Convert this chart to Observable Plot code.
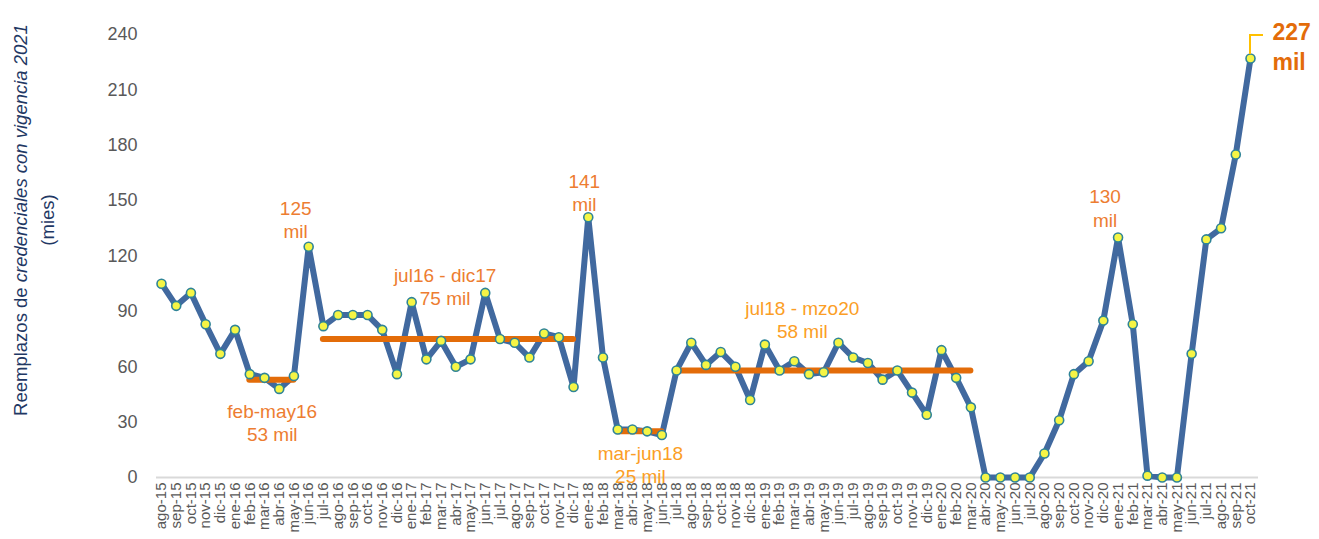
<!DOCTYPE html>
<html>
<head>
<meta charset="utf-8">
<script src="https://cdn.jsdelivr.net/npm/d3@7"></script>
<script src="https://cdn.jsdelivr.net/npm/@observablehq/plot@0.6"></script>
<style>
  html, body { margin: 0; padding: 0; background: #ffffff; }
  #chart svg { display: block; }
</style>
</head>
<body>
<div id="chart"></div>
<script>
// ---- Data ----
const months = [
  "ago-15","sep-15","oct-15","nov-15","dic-15",
  "ene-16","feb-16","mar-16","abr-16","may-16","jun-16","jul-16","ago-16","sep-16","oct-16","nov-16","dic-16",
  "ene-17","feb-17","mar-17","abr-17","may-17","jun-17","jul-17","ago-17","sep-17","oct-17","nov-17","dic-17",
  "ene-18","feb-18","mar-18","abr-18","may-18","jun-18","jul-18","ago-18","sep-18","oct-18","nov-18","dic-18",
  "ene-19","feb-19","mar-19","abr-19","may-19","jun-19","jul-19","ago-19","sep-19","oct-19","nov-19","dic-19",
  "ene-20","feb-20","mar-20","abr-20","may-20","jun-20","jul-20","ago-20","sep-20","oct-20","nov-20","dic-20",
  "ene-21","feb-21","mar-21","abr-21","may-21","jun-21","jul-21","ago-21","sep-21","oct-21"
];
const values = [
  105, 93, 100, 83, 67,
  80, 56, 54, 48, 55, 125, 82, 88, 88, 88, 80, 56,
  95, 64, 74, 60, 64, 100, 75, 73, 65, 78, 76, 49,
  141, 65, 26, 26, 25, 23, 58, 73, 61, 68, 60, 42,
  72, 58, 63, 56, 57, 73, 65, 62, 53, 58, 46, 34,
  69, 54, 38, 0, 0, 0, 0, 13, 31, 56, 63, 85,
  130, 83, 1, 0, 0, 67, 129, 135, 175, 227
];
const yTicks = [0, 30, 60, 90, 120, 150, 180, 210, 240];

// period averages
const avgLabels = ["feb-may16\n53 mil", "jul16 - dic17\n75 mil", "mar-jun18\n25 mil", "jul18 - mzo20\n58 mil"];
const avgStart  = ["feb-16", "jul-16", "mar-18", "jul-18"];
const avgEnd    = ["may-16", "dic-17", "jun-18", "mar-20"];
const avgValues = [53, 75, 25, 58];

// peak callouts
const peakLabels = ["125\nmil", "141\nmil", "130\nmil", "227\nmil"];
const peakMonths = ["jun-16", "ene-18", "ene-21", "oct-21"];
const peakValues = [125, 141, 130, 227];

const yTitleA = "Reemplazos de ";
const yTitleB = "credenciales con vigencia 2021";
const yTitleC = "(mies)";

// ---- Build tables ----
const series = months.map((m, i) => ({month: m, value: values[i]}));
const avgs = avgLabels.map((l, i) => ({label: l, x1: avgStart[i], x2: avgEnd[i], value: avgValues[i]}));
const peaks = peakLabels.map((l, i) => ({label: l, month: peakMonths[i], value: peakValues[i]}));

const FONT = "'Liberation Sans Narrow', 'Arial Narrow', 'Liberation Sans', Arial, sans-serif";
const ORANGE = "#ED7D31";
const ORANGE_DARK = "#E36C09";
const ORANGE_LIGHT = "#FB9E26";
const FS = 19;

const chart = Plot.plot({
  width: 1319,
  height: 539,
  marginLeft: 161,
  marginRight: 69,
  marginTop: 34,
  marginBottom: 62,
  style: {fontFamily: FONT, color: "#595959", background: "#ffffff", overflow: "visible"},
  x: {type: "point", domain: months, padding: 0},
  y: {domain: [0, 240]},
  marks: [
    Plot.ruleY([0], {stroke: "#d9d9d9", strokeWidth: 2, insetLeft: -5, insetRight: -8}),
    Plot.axisY({ticks: yTicks, tickSize: 0, tickPadding: 24, fontSize: 18, label: null}),
    Plot.axisX({tickSize: 0, tickPadding: 5, tickRotate: -90, fontSize: 15, label: null}),
    Plot.line(series, {x: "month", y: "value", stroke: "#41699F", strokeWidth: 6, strokeLinejoin: "round", strokeLinecap: "round"}),
    Plot.ruleY(avgs, {x1: "x1", x2: "x2", y: "value", stroke: ORANGE_DARK, strokeWidth: 6, strokeLinecap: "round"}),
    Plot.dot(series, {x: "month", y: "value", r: 4.5, fill: "#F5F545", stroke: "#2F8497", strokeWidth: 1.6}),
    // period labels
    Plot.text([{...avgs[0], month: "abr-16"}], {x: "month", y: "value", text: "label", fontSize: FS, lineHeight: 1.22, fill: ORANGE, dx: -7, dy: 22, lineAnchor: "top"}),
    Plot.text([{...avgs[1], month: "mar-17"}], {x: "month", y: "value", text: "label", fontSize: FS, lineHeight: 1.22, fill: ORANGE, dx: 4, dy: -34, lineAnchor: "bottom"}),
    Plot.text([{...avgs[2], month: "abr-18"}], {x: "month", y: "value", text: "label", fontSize: FS, lineHeight: 1.22, fill: ORANGE_LIGHT, dx: 8, dy: 12, lineAnchor: "top"}),
    Plot.text([{...avgs[3], month: "mar-19"}], {x: "month", y: "value", text: "label", fontSize: FS, lineHeight: 1.22, fill: ORANGE_LIGHT, dx: 8, dy: -32, lineAnchor: "bottom"}),
    // peak labels
    Plot.text([peaks[0]], {x: "month", y: "value", text: "label", fontSize: FS, lineHeight: 1.22, fill: ORANGE, dx: -13, dy: -9, lineAnchor: "bottom"}),
    Plot.text([peaks[1]], {x: "month", y: "value", text: "label", fontSize: FS, lineHeight: 1.22, fill: ORANGE, dx: -4, dy: -6, lineAnchor: "bottom"}),
    Plot.text([peaks[2]], {x: "month", y: "value", text: "label", fontSize: FS, lineHeight: 1.22, fill: ORANGE, dx: -13, dy: -11, lineAnchor: "bottom"}),
    Plot.text([peaks[3]], {x: "month", y: "value", text: "label", fontSize: 23, lineHeight: 1.3, fill: ORANGE_DARK, fontWeight: "bold", dx: 22, dy: -13, lineAnchor: "middle", textAnchor: "start"})
  ]
});

document.getElementById("chart").appendChild(chart);

// leader line for the last value, using the plot's scales
const sx = chart.scale("x"), sy = chart.scale("y");
const px = sx.apply(peaks[3].month), py = sy.apply(peaks[3].value);
d3.select(chart).append("path")
  .attr("d", `M${px},${py - 4} V${py - 23} H${px + 13}`)
  .attr("fill", "none").attr("stroke", "#FFC000").attr("stroke-width", 2);

// y-axis title (two lines, partly italic)
const svg = d3.select(chart);
const t1 = svg.append("text")
  .attr("transform", "translate(27,220) rotate(-90)")
  .attr("text-anchor", "middle")
  .attr("fill", "#1F3864")
  .style("font-family", FONT).style("font-size", "18.5px");
t1.append("tspan").text(yTitleA);
t1.append("tspan").attr("font-style", "italic").text(yTitleB);
svg.append("text")
  .attr("transform", "translate(54,220) rotate(-90)")
  .attr("text-anchor", "middle")
  .attr("fill", "#1F3864")
  .style("font-family", FONT).style("font-size", "18.5px")
  .text(yTitleC);
</script>
</body>
</html>
